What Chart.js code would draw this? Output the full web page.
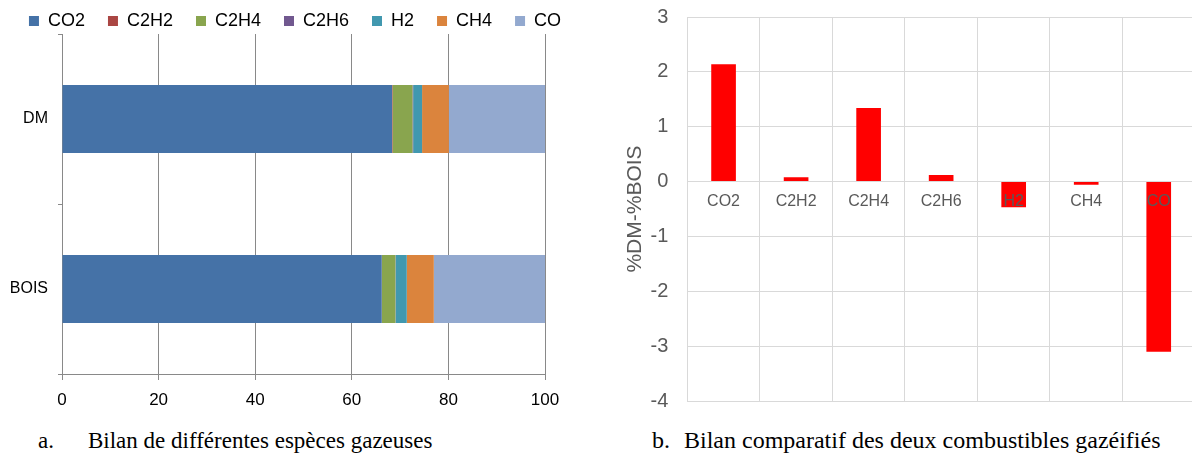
<!DOCTYPE html>
<html>
<head>
<meta charset="utf-8">
<script src="https://cdn.jsdelivr.net/npm/chart.js@4"></script>
<style>
  html, body { margin: 0; padding: 0; background: #fff; overflow: hidden; }
  body { width: 1192px; height: 461px; position: relative; }
  #leftChart { position: absolute; left: 0; top: -11px; }
  #rightChart { position: absolute; left: 600px; top: 0; }
  .caption { position: absolute; top: 428px; font-family: 'Liberation Serif', 'Times New Roman', serif; font-size: 23px; color: #000; white-space: nowrap; }
</style>
</head>
<body>
<canvas id="leftChart" width="590" height="431"></canvas>
<canvas id="rightChart" width="600" height="416"></canvas>
<div class="caption" style="left:38px">a.</div>
<div class="caption" style="left:88px">Bilan de différentes espèces gazeuses</div>
<div class="caption" style="left:652px; font-size:24px; top:427px">b.</div>
<div class="caption" style="left:684px; font-size:24px; top:427px">Bilan comparatif des deux combustibles gazéifiés</div>

<script>
// categories and values
var fuels = ['DM', 'BOIS'];
var species = ['CO2', 'C2H2', 'C2H4', 'C2H6', 'H2', 'CH4', 'CO'];
var dmShare = [68.33, 0.10, 4.13, 0.15, 1.84, 5.55, 19.90];
var boisShare = [66.20, 0.03, 2.80, 0.05, 2.30, 5.60, 23.02];
var diffDmBois = [2.14, 0.08, 1.34, 0.12, -0.47, -0.06, -3.10];
var xTicksLeft = [0, 20, 40, 60, 80, 100];

var speciesColors = ['#4572A7', '#AA4643', '#89A54E', '#71588F', '#4198AF', '#DB843D', '#93A9CF'];

Chart.defaults.font.family = "'Liberation Sans', Arial, sans-serif";
Chart.defaults.animation = false;

var leftCtx = document.getElementById('leftChart').getContext('2d');
var leftChart = new Chart(leftCtx, {
    type: 'bar',
    data: {
        labels: fuels,
        datasets: species.map(function (s, i) {
            return {
                label: s,
                data: [dmShare[i], boisShare[i]],
                backgroundColor: speciesColors[i],
                borderWidth: 0,
                categoryPercentage: 0.8,
                barPercentage: 0.5
            };
        })
    },
    options: {
        indexAxis: 'y',
        responsive: false,
        devicePixelRatio: 1,
        layout: {
            padding: 0
        },
        plugins: {
            legend: {
                position: 'top',
                maxHeight: 45,
                labels: {
                    boxWidth: 10,
                    boxHeight: 10,
                    padding: 23,
                    color: '#000',
                    font: { size: 18 }
                }
            },
            tooltip: { enabled: false }
        },
        scales: {
            x: {
                stacked: true,
                min: 0,
                max: 100,
                afterBuildTicks: function (scale) {
                    scale.ticks = xTicksLeft.map(function (v) { return { value: v }; });
                },
                afterFit: function (scale) {
                    scale.height = 46;
                    scale.paddingRight = 45; // room on the right, legend keeps full width
                },
                ticks: {
                    color: '#000',
                    padding: 10,
                    font: { size: 17 },
                    maxRotation: 0
                },
                grid: {
                    color: '#898989',
                    tickLength: 6,
                    drawTicks: true
                },
                border: { color: '#898989' }
            },
            y: {
                stacked: true,
                afterFit: function (scale) { scale.width = 62; },
                ticks: {
                    color: '#000',
                    padding: 10,
                    font: { size: 16 }
                },
                grid: {
                    drawOnChartArea: false,
                    drawTicks: true,
                    tickLength: 4,
                    color: '#898989'
                },
                border: { color: '#898989' }
            }
        }
    }
});

var rightCtx = document.getElementById('rightChart').getContext('2d');
var rightChart = new Chart(rightCtx, {
    type: 'bar',
    data: {
        labels: species,
        datasets: [{
            label: '%DM-%BOIS',
            data: diffDmBois,
            backgroundColor: '#FF0000',
            borderWidth: 0,
            categoryPercentage: 1,
            barPercentage: 0.34
        }]
    },
    options: {
        responsive: false,
        devicePixelRatio: 1,
        layout: {
            padding: { left: 0, right: 5, top: 17, bottom: 15 }
        },
        plugins: {
            legend: { display: false },
            tooltip: { enabled: false }
        },
        scales: {
            x: {
                position: { y: 0 },
                ticks: {
                    z: 1,
                    color: '#595959',
                    padding: 10,
                    font: { size: 16 },
                    maxRotation: 0
                },
                grid: {
                    color: '#D9D9D9',
                    drawTicks: false,
                    offset: true
                },
                border: { color: '#D9D9D9' }
            },
            y: {
                min: -4,
                max: 3,
                afterFit: function (scale) {
                    scale.width = 87.3;
                    scale.paddingTop = 0;
                    scale.paddingBottom = 0;
                },
                ticks: {
                    stepSize: 1,
                    color: '#595959',
                    padding: 19,
                    font: { size: 20 }
                },
                title: {
                    display: true,
                    text: '%DM-%BOIS',
                    color: '#595959',
                    font: { size: 21 },
                    padding: { top: 23, bottom: 0 }
                },
                grid: {
                    color: '#D9D9D9',
                    drawTicks: false
                },
                border: { display: false }
            }
        }
    }
});
</script>
</body>
</html>
